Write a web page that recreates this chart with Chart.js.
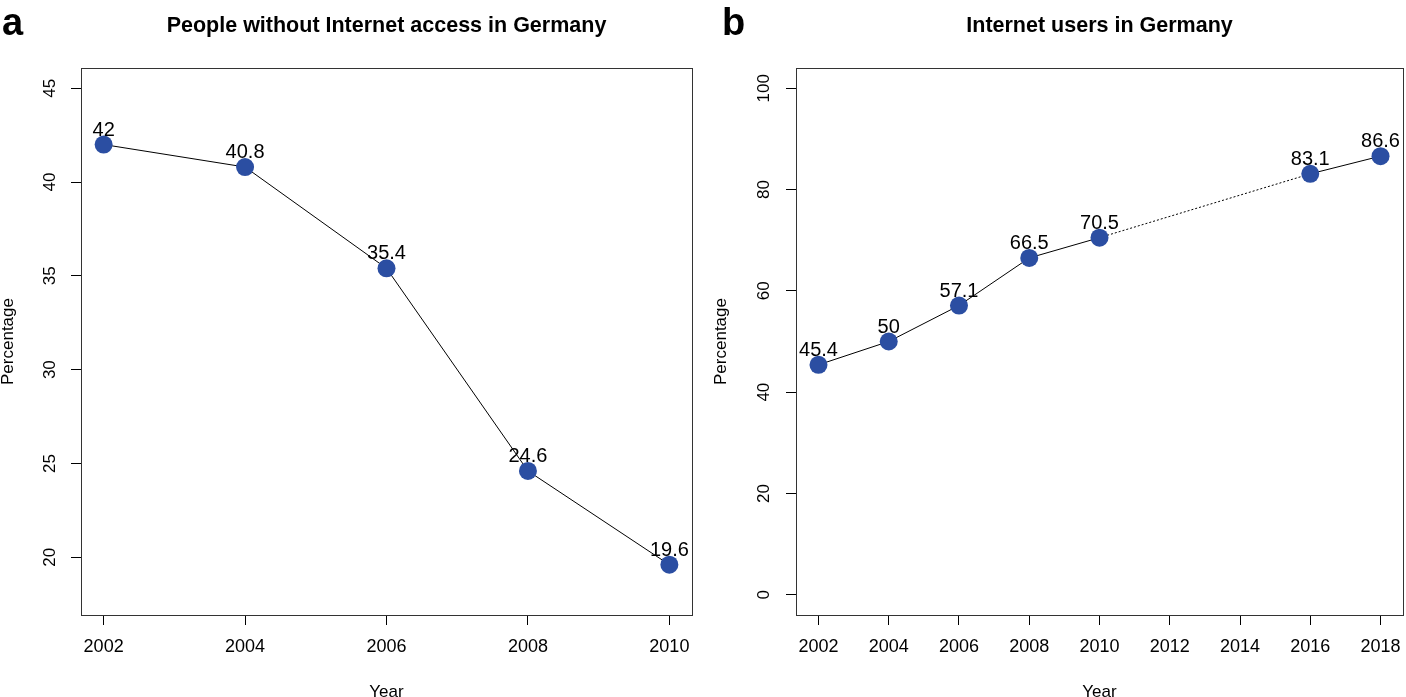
<!DOCTYPE html>
<html>
<head>
<meta charset="utf-8">
<script src="https://cdn.jsdelivr.net/npm/chart.js"></script>
<style>
  body { margin: 0; background: #fff; overflow: hidden; }
  .panel { position: absolute; top: 0; }
</style>
</head>
<body>
<canvas id="chartA" class="panel" style="left:0px" width="703" height="710"></canvas>
<canvas id="chartB" class="panel" style="left:703px" width="712" height="710"></canvas>
<script>
// panel a - people without internet access
const yearsA = [2002, 2004, 2006, 2008, 2010];
const offlineShare = [42, 40.8, 35.4, 24.6, 19.6];
const xTicksA = [2002, 2004, 2006, 2008, 2010];
const yTicksA = [20, 25, 30, 35, 40, 45];
const yLimA = [18, 45];

// panel b - internet users
const yearsB = [2002, 2004, 2006, 2008, 2010, 2016, 2018];
const userShare = [45.4, 50, 57.1, 66.5, 70.5, 83.1, 86.6];
const xTicksB = [2002, 2004, 2006, 2008, 2010, 2012, 2014, 2016, 2018];
const yTicksB = [0, 20, 40, 60, 80, 100];
const yLimB = [0, 100];

const FONT = 'Liberation Sans, Arial, sans-serif';
const POINT_BLUE = '#2b4ea2';

// R style axis range: 4% extra on each side
function rRange(lim) {
  const d = (lim[1] - lim[0]) * 0.04;
  return [lim[0] - d, lim[1] + d];
}

// box, title, panel letter and value labels
const decorations = {
  id: 'decorations',
  afterDatasetsDraw(chart, args, opts) {
    const ctx = chart.ctx;
    const area = chart.chartArea;
    ctx.save();
    ctx.strokeStyle = '#333';
    ctx.lineWidth = 1;
    ctx.strokeRect(Math.round(area.left) + 0.5, Math.round(area.top) + 0.5,
      Math.round(area.right - area.left), Math.round(area.bottom - area.top));

    ctx.fillStyle = '#000';
    ctx.font = 'bold 21.5px ' + FONT;
    ctx.textAlign = 'center';
    ctx.textBaseline = 'middle';
    ctx.fillText(opts.title, (area.left + area.right) / 2, 26);

    ctx.font = 'bold 38px ' + FONT;
    ctx.textAlign = 'left';
    ctx.textBaseline = 'alphabetic';
    ctx.fillText(opts.letter, opts.letterX, 35);

    // numbers above the points
    const meta = chart.getDatasetMeta(0);
    const values = chart.data.datasets[0].data;
    ctx.font = '20px ' + FONT;
    ctx.textAlign = 'center';
    meta.data.forEach((pt, i) => {
      ctx.fillText(String(values[i].y), pt.x, pt.y - 9);
    });
    ctx.restore();
  }
};

function makeChart(id, years, values, xTicks, yTicks, yLim, cfg) {
  const xr = rRange([years[0], years[years.length - 1]]);
  const yr = rRange(yLim);
  return new Chart(document.getElementById(id), {
    type: 'line',
    data: {
      datasets: [{
        data: years.map((y, i) => ({ x: y, y: values[i] })),
        borderColor: '#000',
        borderWidth: 1,
        pointRadius: 9,
        pointBackgroundColor: POINT_BLUE,
        pointBorderWidth: 0,
        segment: {
          borderDash: c => (c.p1.parsed.x - c.p0.parsed.x > 2 ? [2, 2] : undefined)
        }
      }]
    },
    options: {
      responsive: false,
      animation: false,
      layout: { padding: { left: cfg.padLeft, right: cfg.padRight, top: 68, bottom: 0 } },
      plugins: {
        legend: { display: false },
        tooltip: { enabled: false },
        decorations: { title: cfg.title, letter: cfg.letter, letterX: cfg.letterX }
      },
      scales: {
        x: {
          type: 'linear',
          min: xr[0],
          max: xr[1],
          afterBuildTicks: s => { s.ticks = xTicks.map(v => ({ value: v })); },
          afterFit: s => { s.height = 95; },
          border: { display: false },
          grid: { drawOnChartArea: false, drawTicks: true, tickLength: 10, color: '#000' },
          ticks: {
            padding: 11, maxRotation: 0, autoSkip: false, color: '#000',
            font: { family: FONT, size: 18 },
            callback: v => String(v)
          },
          title: {
            display: true, text: 'Year', color: '#000',
            font: { family: FONT, size: 17, lineHeight: 1 }, padding: { top: 0, bottom: 9.5 }
          }
        },
        y: {
          min: yr[0],
          max: yr[1],
          afterBuildTicks: s => { s.ticks = yTicks.map(v => ({ value: v })); },
          afterFit: s => { s.width = cfg.yWidth; },
          border: { display: false },
          grid: { drawOnChartArea: false, drawTicks: true, tickLength: 10, color: '#000' },
          ticks: {
            padding: cfg.yPad, minRotation: 90, maxRotation: 90, crossAlign: 'center',
            color: '#000', font: { family: FONT, size: 17 },
            callback: v => String(v)
          },
          title: {
            display: true, text: 'Percentage', color: '#000',
            font: { family: FONT, size: 17, lineHeight: 1 }, padding: { top: 0, bottom: 0 }
          }
        }
      }
    },
    plugins: [decorations]
  });
}

window.onload = function() {
  makeChart('chartA', yearsA, offlineShare, xTicksA, yTicksA, yLimA, {
    title: 'People without Internet access in Germany', letter: 'a', letterX: 2,
    padLeft: 0, padRight: 11, yWidth: 81, yPad: 11
  });
  // canvas b is a bit wider than the page, the extra right margin is cut off
  makeChart('chartB', yearsB, userShare, xTicksB, yTicksB, yLimB, {
    title: 'Internet users in Germany', letter: 'b', letterX: 19,
    padLeft: 10, padRight: 12, yWidth: 83, yPad: 8
  });
};
</script>
</body>
</html>
